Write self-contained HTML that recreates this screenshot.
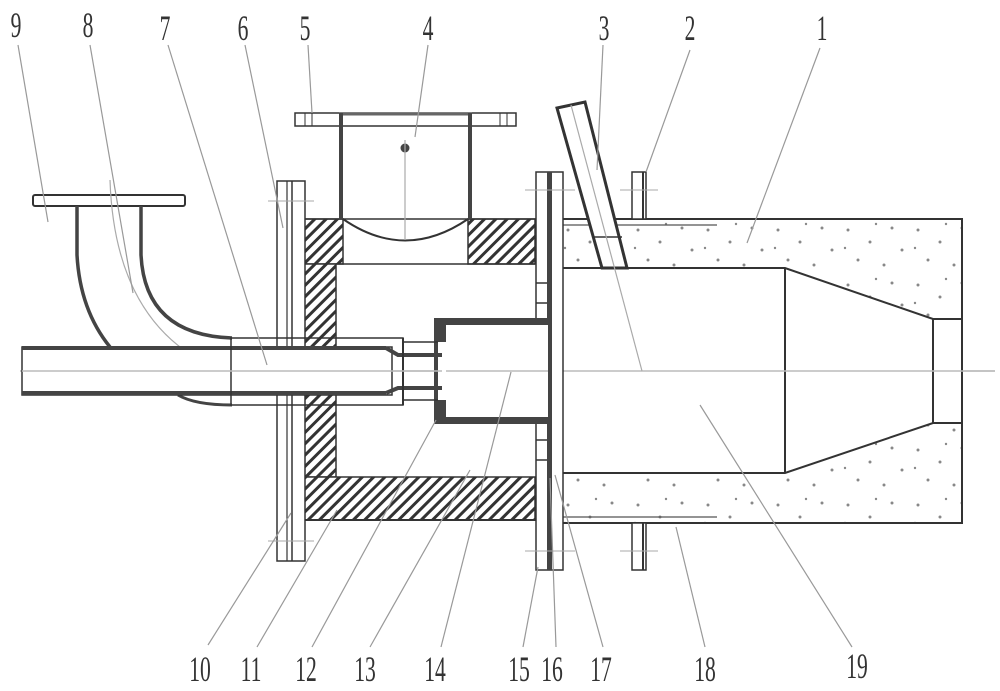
<!DOCTYPE html>
<html><head><meta charset="utf-8"><style>
html,body{margin:0;padding:0;background:#fff;}
svg{display:block;}
.lb{font-family:"Liberation Serif",serif;font-size:36px;fill:#333;}
</style></head><body>
<svg width="1000" height="691" viewBox="0 0 1000 691" xmlns="http://www.w3.org/2000/svg">
<defs>
<pattern id="hatch" patternUnits="userSpaceOnUse" width="8" height="8" patternTransform="rotate(45)">
<rect width="8" height="8" fill="#fff"/><rect x="0" y="0" width="3" height="8" fill="#333"/>
</pattern>
<pattern id="dots" patternUnits="userSpaceOnUse" width="70" height="55">
<rect width="70" height="55" fill="#fff"/>
<g fill="#888">
<circle cx="8" cy="10" r="1.5"/><circle cx="30" cy="22" r="1.5"/><circle cx="52" cy="8" r="1.5"/>
<circle cx="18" cy="40" r="1.5"/><circle cx="44" cy="45" r="1.5"/><circle cx="62" cy="30" r="1.5"/>
<circle cx="36" cy="4" r="1.2"/><circle cx="5" cy="28" r="1.2"/>
</g>
</pattern>
</defs>

<line x1="20" y1="371" x2="995" y2="371" stroke="#bbb" stroke-width="1.5"/>

<rect x="551" y="219" width="411" height="304" fill="url(#dots)" stroke="#333" stroke-width="2"/>
<polygon points="551,268 785,268 933,319 962,319 962,423 933,423 785,473 551,473" fill="#fff" stroke="#333" stroke-width="2"/>
<line x1="785" y1="268" x2="785" y2="473" stroke="#333" stroke-width="2"/>
<line x1="933" y1="319" x2="933" y2="423" stroke="#333" stroke-width="2"/>
<line x1="551" y1="371" x2="995" y2="371" stroke="#bbb" stroke-width="1.5"/>
<line x1="552" y1="225" x2="717" y2="225" stroke="#555" stroke-width="1.2"/>
<line x1="552" y1="517" x2="717" y2="517" stroke="#555" stroke-width="1.2"/>

<rect x="632" y="172" width="14" height="47" fill="#fff" stroke="#333" stroke-width="1.5"/>
<line x1="643" y1="172" x2="643" y2="219" stroke="#333" stroke-width="2"/>
<rect x="632" y="523" width="14" height="47" fill="#fff" stroke="#333" stroke-width="1.5"/>
<line x1="643" y1="523" x2="643" y2="570" stroke="#333" stroke-width="2"/>
<line x1="620" y1="190" x2="658" y2="190" stroke="#aaa" stroke-width="1"/>
<line x1="620" y1="551" x2="658" y2="551" stroke="#aaa" stroke-width="1"/>

<polygon points="557,108 585,102 627,268 602,268" fill="#fff" stroke="#333" stroke-width="3"/>
<line x1="593" y1="237" x2="622" y2="237" stroke="#333" stroke-width="1.5"/>
<line x1="571" y1="105" x2="642" y2="371" stroke="#aaa" stroke-width="1.2"/>

<rect x="296" y="219" width="47" height="45" fill="url(#hatch)" stroke="#333" stroke-width="1.5"/>
<rect x="468" y="219" width="67" height="45" fill="url(#hatch)" stroke="#333" stroke-width="1.5"/>
<rect x="296" y="264" width="40" height="213" fill="url(#hatch)" stroke="#333" stroke-width="1.5"/>
<rect x="296" y="477" width="239" height="43" fill="url(#hatch)" stroke="#333" stroke-width="1.5"/>
<line x1="336" y1="264" x2="535" y2="264" stroke="#333" stroke-width="1.5"/>
<line x1="292" y1="520" x2="552" y2="520" stroke="#333" stroke-width="2"/>
<line x1="292" y1="219" x2="552" y2="219" stroke="#333" stroke-width="1.5"/>

<rect x="295" y="113" width="221" height="13" fill="#fff" stroke="#333" stroke-width="1.5"/>
<line x1="339" y1="114" x2="472" y2="114" stroke="#666" stroke-width="3"/>
<line x1="305" y1="113" x2="305" y2="126" stroke="#333" stroke-width="1"/>
<line x1="312" y1="113" x2="312" y2="126" stroke="#333" stroke-width="1"/>
<line x1="500" y1="113" x2="500" y2="126" stroke="#333" stroke-width="1"/>
<line x1="507" y1="113" x2="507" y2="126" stroke="#333" stroke-width="1"/>
<rect x="339" y="113" width="4" height="106" fill="#444"/>
<rect x="468" y="113" width="4" height="106" fill="#444"/>
<path d="M343,219 Q405,262 468,219" fill="none" stroke="#333" stroke-width="2"/>
<circle cx="405" cy="148" r="4.5" fill="#444"/>
<line x1="405" y1="140" x2="405" y2="240" stroke="#aaa" stroke-width="1.2"/>

<rect x="277" y="181" width="28" height="380" fill="#fff" stroke="#333" stroke-width="1.5"/>
<line x1="287" y1="181" x2="287" y2="561" stroke="#333" stroke-width="1.2"/>
<line x1="292" y1="181" x2="292" y2="561" stroke="#333" stroke-width="1.5"/>
<line x1="268" y1="201" x2="314" y2="201" stroke="#aaa" stroke-width="1"/>
<line x1="268" y1="541" x2="314" y2="541" stroke="#aaa" stroke-width="1"/>

<rect x="536" y="172" width="27" height="398" fill="#fff" stroke="#333" stroke-width="1.5"/>
<rect x="547" y="172" width="5" height="398" fill="#444"/>
<line x1="536" y1="283" x2="547" y2="283" stroke="#333" stroke-width="1.5"/>
<line x1="536" y1="303" x2="547" y2="303" stroke="#333" stroke-width="1.5"/>
<line x1="536" y1="440" x2="547" y2="440" stroke="#333" stroke-width="1.5"/>
<line x1="536" y1="460" x2="547" y2="460" stroke="#333" stroke-width="1.5"/>
<line x1="525" y1="190" x2="575" y2="190" stroke="#aaa" stroke-width="1"/>
<line x1="525" y1="551" x2="575" y2="551" stroke="#aaa" stroke-width="1"/>

<path d="M434,318 H548 V424 H434 Z" fill="#444"/>
<rect x="446" y="325" width="102" height="92" fill="#fff"/>
<rect x="438" y="342" width="8" height="58" fill="#fff"/>
<line x1="446" y1="371" x2="548" y2="371" stroke="#bbb" stroke-width="1.5"/>

<rect x="33" y="195" width="152" height="11" rx="2" fill="#fff" stroke="#333" stroke-width="2"/>
<path d="M77,206 V255 Q80,310 110,347" fill="none" stroke="#444" stroke-width="3.5"/>
<path d="M141,206 V255 Q145,335 232,338" fill="none" stroke="#444" stroke-width="3.5"/>
<path d="M178,395 Q195,405 232,405" fill="none" stroke="#444" stroke-width="3"/>
<path d="M110,180 Q115,330 225,372" fill="none" stroke="#aaa" stroke-width="1.2"/>

<rect x="22" y="347" width="370" height="48" fill="#fff" stroke="#333" stroke-width="1.5"/>
<rect x="22" y="346" width="364" height="4" fill="#444"/>
<rect x="22" y="391" width="364" height="4" fill="#444"/>
<path d="M386,348 L398,355 H442" fill="none" stroke="#444" stroke-width="4"/>
<path d="M386,393 L398,388 H442" fill="none" stroke="#444" stroke-width="4"/>
<line x1="403" y1="342" x2="438" y2="342" stroke="#333" stroke-width="1.5"/>
<line x1="403" y1="400" x2="438" y2="400" stroke="#333" stroke-width="1.5"/>
<rect x="231" y="338" width="172" height="67" fill="none" stroke="#333" stroke-width="1.5"/>
<line x1="403" y1="338" x2="403" y2="405" stroke="#333" stroke-width="2"/>
<line x1="22" y1="371" x2="442" y2="371" stroke="#bbb" stroke-width="1.5"/>

<g stroke="#999" stroke-width="1.2" fill="none">
<line x1="18" y1="45" x2="48" y2="222"/>
<line x1="90" y1="45" x2="133" y2="293"/>
<line x1="168" y1="45" x2="267" y2="365"/>
<line x1="245" y1="45" x2="283" y2="228"/>
<line x1="308" y1="45" x2="312" y2="113"/>
<line x1="428" y1="45" x2="415" y2="137"/>
<line x1="603" y1="45" x2="597" y2="170"/>
<line x1="690" y1="50" x2="646" y2="172"/>
<line x1="820" y1="48" x2="747" y2="243"/>
<line x1="208" y1="645" x2="291" y2="513"/>
<line x1="257" y1="647" x2="337" y2="510"/>
<line x1="312" y1="647" x2="436" y2="420"/>
<line x1="370" y1="647" x2="470" y2="470"/>
<line x1="441" y1="647" x2="511" y2="372"/>
<line x1="523" y1="647" x2="538" y2="567"/>
<line x1="556" y1="647" x2="550" y2="478"/>
<line x1="603" y1="647" x2="555" y2="475"/>
<line x1="705" y1="647" x2="676" y2="527"/>
<line x1="852" y1="647" x2="700" y2="405"/>
</g>

<g class="lb" text-anchor="middle">
<text transform="translate(16,37) scale(0.6,1)">9</text>
<text transform="translate(88,37) scale(0.6,1)">8</text>
<text transform="translate(165,40) scale(0.6,1)">7</text>
<text transform="translate(243,40) scale(0.6,1)">6</text>
<text transform="translate(305,40) scale(0.6,1)">5</text>
<text transform="translate(428,40) scale(0.6,1)">4</text>
<text transform="translate(604,40) scale(0.6,1)">3</text>
<text transform="translate(690,40) scale(0.6,1)">2</text>
<text transform="translate(822,40) scale(0.6,1)">1</text>
<text transform="translate(200,681) scale(0.6,1)">10</text>
<text transform="translate(251,681) scale(0.6,1)">11</text>
<text transform="translate(306,681) scale(0.6,1)">12</text>
<text transform="translate(365,681) scale(0.6,1)">13</text>
<text transform="translate(435,681) scale(0.6,1)">14</text>
<text transform="translate(519,681) scale(0.6,1)">15</text>
<text transform="translate(552,681) scale(0.6,1)">16</text>
<text transform="translate(601,681) scale(0.6,1)">17</text>
<text transform="translate(705,681) scale(0.6,1)">18</text>
<text transform="translate(857,678) scale(0.6,1)">19</text>
</g>
</svg>
</body></html>
